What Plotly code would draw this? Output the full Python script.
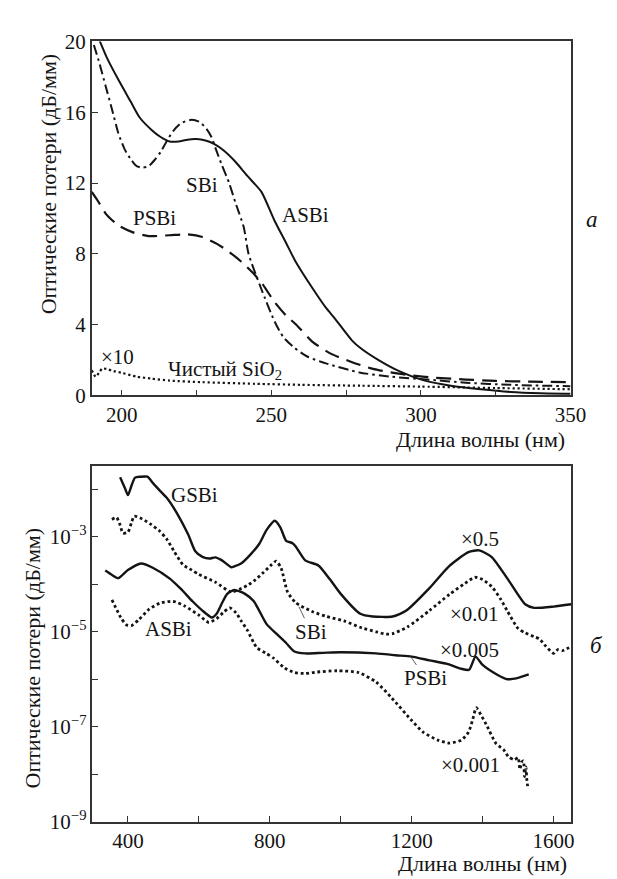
import plotly.graph_objects as go

# ---------------- Panel (a): linear losses, 190-350 nm ----------------
asbi_a_x = [192, 195, 199, 203, 206, 210, 213, 216, 219, 222, 225, 228, 231, 234, 238, 242, 246.7,
            251, 255, 258, 264, 268.5, 271, 277, 280, 286, 292, 301, 310, 320, 330, 340, 350]
asbi_a_y = [20.3, 19.1, 17.8, 16.6, 15.7, 15.0, 14.6, 14.35, 14.35, 14.45, 14.48, 14.4, 14.2, 13.85,
            13.2, 12.4, 11.5, 9.9, 8.6, 7.6, 6.0, 4.9, 4.4, 3.1, 2.65, 1.98, 1.43, 0.85, 0.55, 0.35,
            0.2, 0.13, 0.1]

sbi_a_x = [190.7, 192.5, 194.6, 196.7, 198.9, 201, 203.2, 205, 207, 209, 211, 213, 215, 217.4, 220,
           223.4, 226, 228.3, 230, 231.5, 233.5, 235.9, 238, 240.8, 242.4, 246.7, 251.1, 254, 257.6,
           262, 268.5, 279.4, 290, 302, 315, 330, 350]
sbi_a_y = [19.8, 18.8, 17.5, 16.2, 14.8, 13.9, 13.3, 12.95, 12.87, 12.95, 13.3, 13.75, 14.35, 14.98,
           15.4, 15.57, 15.45, 15.07, 14.6, 13.9, 13.0, 12.0, 10.9, 9.5, 8.0, 6.0, 4.18, 3.3, 2.71,
           2.2, 1.8, 1.3, 1.06, 0.9, 0.72, 0.6, 0.52]

psbi_a_x = [190, 192, 195, 199, 204, 209, 216, 222, 227, 232, 236, 240, 244, 247, 251, 255, 258,
            264, 270, 277, 284, 290, 296, 305, 315, 325, 337, 350]
psbi_a_y = [11.5, 11.0, 10.2, 9.6, 9.2, 9.0, 9.05, 9.1, 8.95, 8.55, 8.1, 7.55, 6.9, 6.3, 5.3, 4.5,
            4.05, 3.0, 2.35, 1.88, 1.5, 1.3, 1.15, 1.0, 0.9, 0.82, 0.78, 0.75]

sio2_x = [190, 191.3, 192.5, 193.5, 195, 196.7, 200, 205, 210, 216, 227, 244.5, 260, 280, 300, 325, 350]
sio2_y = [1.43, 1.06, 1.3, 1.52, 1.5, 1.4, 1.28, 1.06, 0.95, 0.84, 0.75, 0.66, 0.6, 0.55, 0.5, 0.42, 0.35]

xa_tickvals = [200, 225, 250, 275, 300, 325, 350]
xa_ticktext = ["200", "", "250", "", "300", "", "350"]
ya_tickvals = [0, 4, 8, 12, 16, 20]
ya_ticktext = ["0", "4", "8", "12", "16", "20"]

# ---------------- Panel (b): log losses, 300-1650 nm ----------------
gsbi_x = [378, 392, 400, 410, 420, 435, 455, 470, 490, 510, 540, 570, 590, 610, 630, 646, 665, 691,
          700, 720, 746, 770, 791, 814, 830, 846, 864, 873, 900, 937, 970, 1000, 1055, 1090, 1146,
          1185, 1250, 1305, 1360, 1390, 1425, 1470, 1520, 1545, 1600, 1650]
gsbi_y = [1.82e-2, 1.05e-2, 7.6e-3, 1.2e-2, 1.78e-2, 1.86e-2, 1.86e-2, 1.38e-2, 9.5e-3, 6.6e-3,
          3.0e-3, 1.12e-3, 5.0e-4, 3.8e-4, 3.5e-4, 3.7e-4, 3.2e-4, 2.3e-4, 2.4e-4, 2.8e-4, 4.3e-4,
          7.1e-4, 1.41e-3, 2.2e-3, 1.58e-3, 8.3e-4, 7.4e-4, 6.3e-4, 3.2e-4, 2.5e-4, 1.26e-4, 6.3e-5,
          2.4e-5, 2.1e-5, 2.1e-5, 2.8e-5, 8.3e-5, 2.4e-4, 4.8e-4, 5.2e-4, 3.8e-4, 1.32e-4, 3.8e-5,
          3.2e-5, 3.4e-5, 3.8e-5]

sbi_b_x = [355, 368, 378, 386, 400, 410, 418, 440, 464, 490, 509, 530, 555, 580, 600, 646, 691, 715,
           737, 760, 782, 805, 818, 832, 850, 873, 918, 960, 1009, 1060, 1100, 1128, 1146, 1188, 1250,
           1307, 1350, 1378, 1400, 1426, 1450, 1469, 1500, 1520, 1545, 1560, 1578, 1600, 1612, 1625,
           1637, 1650]
sbi_b_y = [2.34e-3, 2.57e-3, 1.78e-3, 1.2e-3, 1.26e-3, 2.0e-3, 2.75e-3, 2.4e-3, 1.86e-3, 1.32e-3,
           9.1e-4, 5.0e-4, 2.6e-4, 2.0e-4, 1.62e-4, 1.12e-4, 6.9e-5, 7.9e-5, 9.5e-5, 1.26e-4, 1.78e-4,
           2.6e-4, 3.1e-4, 2.2e-4, 6.9e-5, 4.1e-5, 2.7e-5, 2.1e-5, 1.7e-5, 1.2e-5, 1.0e-5, 8.9e-6,
           9.1e-6, 1.26e-5, 2.8e-5, 6.2e-5, 1.05e-4, 1.41e-4, 1.26e-4, 8.9e-5, 5.0e-5, 2.8e-5, 1.17e-5,
           9.5e-6, 7.9e-6, 7.1e-6, 5.0e-6, 3.5e-6, 4.2e-6, 4.0e-6, 4.4e-6, 4.8e-6]

psbi_b_x = [336, 355, 373, 400, 437, 470, 518, 550, 582, 610, 637, 650, 665, 680, 700, 730, 755, 791,
            820, 846, 868, 900, 950, 1000, 1100, 1155, 1200, 1250, 1300, 1340, 1362, 1380, 1400, 1440,
            1470, 1500, 1530]
psbi_b_y = [1.95e-4, 1.58e-4, 1.35e-4, 2.0e-4, 2.75e-4, 2.24e-4, 1.32e-4, 7.9e-5, 4.4e-5, 2.8e-5,
            2.0e-5, 2.4e-5, 4.0e-5, 6.3e-5, 7.6e-5, 6.3e-5, 4.4e-5, 1.45e-5, 8.9e-6, 5.8e-6, 3.9e-6,
            3.5e-6, 3.6e-6, 3.7e-6, 3.5e-6, 3.2e-6, 3.0e-6, 2.5e-6, 2.1e-6, 1.66e-6, 1.58e-6, 3.0e-6,
            2.0e-6, 1.26e-6, 1.0e-6, 1.07e-6, 1.26e-6]

asbi_b_x = [355, 380, 395, 410, 430, 460, 490, 527, 560, 600, 628, 650, 670, 687, 705, 720, 737, 755,
            765, 790, 810, 841, 870, 900, 930, 990, 1050, 1100, 1144, 1200, 1231, 1274, 1307, 1340,
            1360, 1372, 1382, 1395, 1410, 1437, 1460, 1473, 1490, 1500, 1505, 1510, 1515, 1518, 1520,
            1522, 1525, 1528]
asbi_b_y = [4.7e-5, 2.0e-5, 1.41e-5, 1.35e-5, 1.78e-5, 3.0e-5, 4.0e-5, 4.4e-5, 3.5e-5, 2.24e-5,
            1.58e-5, 1.9e-5, 2.6e-5, 3.2e-5, 2.5e-5, 1.66e-5, 1.07e-5, 5.8e-6, 4.5e-6, 3.5e-6, 2.8e-6,
            1.74e-6, 1.38e-6, 1.32e-6, 1.41e-6, 1.51e-6, 1.38e-6, 8.7e-7, 4.0e-7, 1.35e-7, 7.8e-8,
            5.2e-8, 4.5e-8, 5.2e-8, 7.6e-8, 1.41e-7, 2.5e-7, 1.78e-7, 1.12e-7, 4.5e-8, 3.2e-8, 2.3e-8,
            2.0e-8, 2.24e-8, 1.26e-8, 1.78e-8, 1.9e-8, 8.9e-9, 1.12e-8, 1.41e-8, 7.1e-9, 4.9e-9]

xb_tickvals = [400, 600, 800, 1000, 1200, 1400, 1600]
xb_ticktext = ["400", "", "800", "", "1200", "", "1600"]
yb_tickvals = [1e-9, 1e-8, 1e-7, 1e-6, 1e-5, 1e-4, 1e-3, 1e-2]
yb_ticktext = ["10<sup>−9</sup>", "", "10<sup>−7</sup>", "", "10<sup>−5</sup>", "",
               "10<sup>−3</sup>", ""]

# ---------------- figure ----------------
FONT = "Liberation Serif"
INK = "#141414"
AX = "#333333"

fig = go.Figure()

def add(x, y, xa, ya, width, dash):
    fig.add_trace(go.Scatter(x=x, y=y, xaxis=xa, yaxis=ya, mode="lines",
                             line=dict(color=INK, width=width, dash=dash, shape="spline",
                                       smoothing=0.6),
                             showlegend=False, hoverinfo="skip"))

add(asbi_a_x, asbi_a_y, "x", "y", 2.0, "solid")
add(sbi_a_x, sbi_a_y, "x", "y", 2.0, "10px,4px,2.5px,4px")
add(psbi_a_x, psbi_a_y, "x", "y", 2.2, "15px,8px")
add(sio2_x, sio2_y, "x", "y", 2.2, "2.2px,2.8px")

add(gsbi_x, gsbi_y, "x2", "y2", 2.4, "solid")
add(sbi_b_x, sbi_b_y, "x2", "y2", 2.8, "2.8px,2.8px")
add(psbi_b_x, psbi_b_y, "x2", "y2", 2.4, "solid")
add(asbi_b_x, asbi_b_y, "x2", "y2", 2.8, "2.8px,2.8px")

TICK = 21
axis_common = dict(showline=True, mirror=True, linecolor=AX, linewidth=1.5, ticks="inside",
                   ticklen=6, tickwidth=1.2, tickcolor=AX, showgrid=False, zeroline=False,
                   tickfont=dict(family=FONT, size=TICK, color=INK), tickmode="array")

W, H = 617, 879
fig.update_layout(
    width=W, height=H, margin=dict(l=0, r=0, t=0, b=0),
    paper_bgcolor="white", plot_bgcolor="white",
    font=dict(family=FONT, size=TICK, color=INK),
    xaxis=dict(domain=[86 / W, 577.5 / W], range=[190, 350], anchor="y",
               tickvals=xa_tickvals, ticktext=xa_ticktext, **axis_common),
    yaxis=dict(domain=[1 - 386 / H, 1 - 22 / H], range=[0, 20], anchor="x",
               tickvals=ya_tickvals, ticktext=ya_ticktext, **axis_common),
    xaxis2=dict(domain=[86.7 / W, 578.3 / W], range=[300, 1650], anchor="y2",
                tickvals=xb_tickvals, ticktext=xb_ticktext, **axis_common),
    yaxis2=dict(domain=[1 - 824 / H, 1 - 458.3 / H], type="log", range=[-9, -1.5], anchor="x2",
                tickvals=yb_tickvals, ticktext=yb_ticktext, **axis_common),
)

LBL = 21

def label(text, x, y, xref, yref, size=LBL, xanchor="center", **kw):
    fig.add_annotation(text=text, x=x, y=y, xref=xref, yref=yref, showarrow=False,
                       xanchor=xanchor, yanchor="middle",
                       font=dict(family=FONT, size=size, color=INK), **kw)

# panel (a) labels
label("SBi", 227, 11.9, "x", "y")
label("ASBi", 261.5, 10.2, "x", "y")
label("PSBi", 211, 10.0, "x", "y")
label("×10", 198.6, 2.2, "x", "y")
label("Чистый SiO<sub>2</sub>", 234.5, 1.45, "x", "y")

# panel (b) labels
label("GSBi", 587, -2.12, "x2", "y2")
label("×0.5", 1392, -3.04, "x2", "y2")
label("×0.01", 1378, -4.62, "x2", "y2")
label("×0.005", 1364, -5.38, "x2", "y2")
label("ASBi", 514, -4.94, "x2", "y2")
label("×0.001", 1365, -7.8, "x2", "y2")
fig.add_annotation(text="SBi", x=882, y=-4.47, xref="x2", yref="y2", showarrow=True,
                   arrowhead=0, arrowwidth=0.8, arrowcolor=AX, ax=12, ay=25,
                   font=dict(family=FONT, size=LBL, color=INK))
fig.add_annotation(text="PSBi", x=1197, y=-5.52, xref="x2", yref="y2", showarrow=True,
                   arrowhead=0, arrowwidth=0.8, arrowcolor=AX, ax=15, ay=22,
                   font=dict(family=FONT, size=LBL, color=INK))

# axis titles
TTL = 22
label("Длина волны (нм)", 574 / W, 1 - 431 / H, "paper", "paper", size=TTL, xanchor="right")
label("Длина волны (нм)", 576 / W, 1 - 867 / H, "paper", "paper", size=TTL, xanchor="right")
label("Оптические потери (дБ/мм)", 42 / W, 1 - 168 / H, "paper", "paper", size=TTL, textangle=-90)
label("Оптические потери (дБ/мм)", 25 / W, 1 - 656 / H, "paper", "paper", size=TTL, textangle=-90)

# panel letters
label("<i>а</i>", 600 / W, 1 - 205 / H, "paper", "paper", size=23)
label("<i>б</i>", 604 / W, 1 - 643 / H, "paper", "paper", size=23)

fig.write_html("out.html")
